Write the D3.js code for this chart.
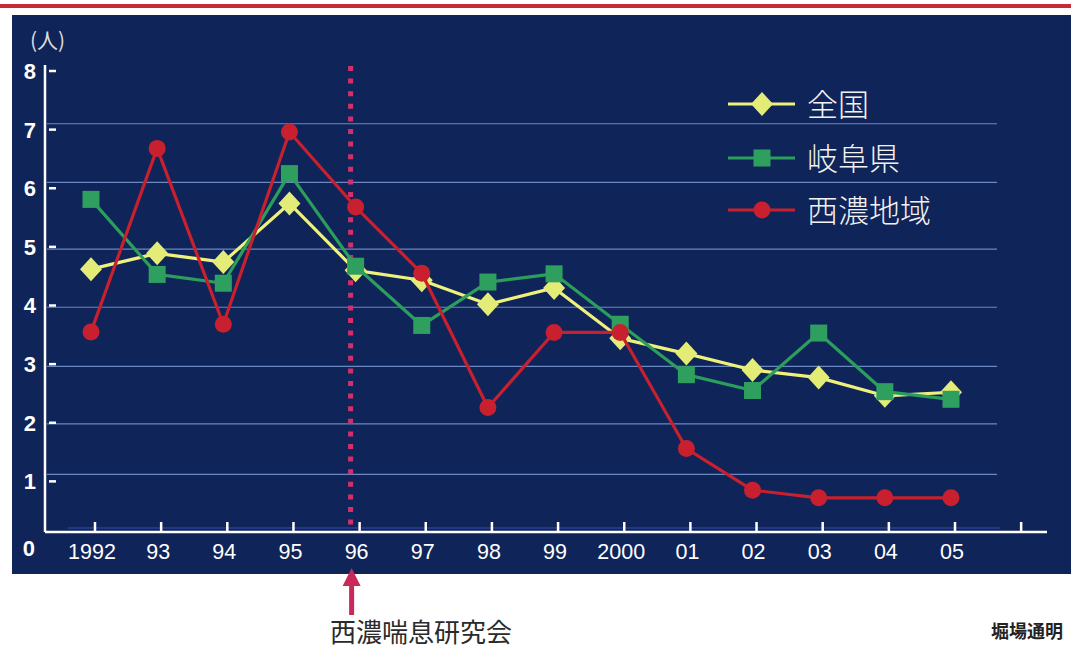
<!DOCTYPE html>
<html>
<head>
<meta charset="utf-8">
<script src="https://cdn.jsdelivr.net/npm/d3@7/dist/d3.min.js"></script>
<style>
  html, body { margin: 0; padding: 0; background: #ffffff; }
  svg { display: block; }
</style>
</head>
<body>
<svg id="chart" width="1071" height="648"></svg>
<script>
// Asthma deaths per 100,000 (人), 1992–2005
const years = ['1992', '93', '94', '95', '96', '97', '98', '99', '2000', '01', '02', '03', '04', '05'];
const national = [4.62, 4.89, 4.74, 5.74, 4.60, 4.43, 4.02, 4.30, 3.44, 3.18, 2.90, 2.77, 2.46, 2.52];
const gifu = [5.81, 4.53, 4.38, 6.25, 4.67, 3.66, 4.40, 4.54, 3.68, 2.82, 2.55, 3.53, 2.53, 2.40];
const seino = [3.55, 6.68, 3.68, 6.96, 5.68, 4.55, 2.26, 3.54, 3.54, 1.56, 0.85, 0.72, 0.72, 0.72];
const seriesNames = ['全国', '岐阜県', '西濃地域'];
const yTicks = [0, 1, 2, 3, 4, 5, 6, 7, 8];
const gridLevels = [7.1, 6.1, 4.96, 3.97, 2.96, 1.98, 1.12];
const markerYear = '96';
const markerLabel = '西濃喘息研究会';
const unitLabel = '(人)';
const authorLabel = '堀場通明';

const svg = d3.select('#chart');
const W = 1071, H = 648;

const x = d3.scalePoint().domain(years).range([91, 951]);
const y = d3.scaleLinear().domain([0, 8]).range([540, 71]);
const step = x.step();
const axisY = 532, axisX = 45;

// header rule and panel
svg.append('rect').attr('x', 0).attr('y', 4).attr('width', W).attr('height', 4).attr('fill', '#c9283a');
svg.append('rect').attr('x', 12).attr('y', 15).attr('width', W - 12).attr('height', 559).attr('fill', '#0f2458');

// horizontal grid
svg.append('g').selectAll('line').data(gridLevels).join('line')
  .attr('x1', axisX + 2).attr('x2', 997)
  .attr('y1', d => y(d)).attr('y2', d => y(d))
  .attr('stroke', '#7d9ad6').attr('stroke-width', 1.2).attr('opacity', 0.85);

// faint baseline just above the axis
svg.append('line')
  .attr('x1', 68).attr('x2', 1000).attr('y1', axisY - 4).attr('y2', axisY - 4)
  .attr('stroke', '#3048b4').attr('stroke-width', 2).attr('opacity', 0.55);

// y axis
svg.append('line').attr('x1', axisX).attr('x2', axisX).attr('y1', 65).attr('y2', axisY)
  .attr('stroke', '#ffffff').attr('stroke-width', 2.5);
const yt = svg.append('g');
yt.selectAll('line').data(yTicks.filter(d => d > 0)).join('line')
  .attr('x1', axisX + 4).attr('x2', axisX + 11)
  .attr('y1', d => y(d)).attr('y2', d => y(d))
  .attr('stroke', '#ffffff').attr('stroke-width', 2.5);
yt.selectAll('text').data(yTicks).join('text')
  .attr('x', d => d === 0 ? 35 : 36)
  .attr('y', d => d === 0 ? y(d) + 8 : y(d))
  .attr('dy', '0.36em')
  .attr('text-anchor', 'end')
  .attr('fill', '#ffffff')
  .attr('font-family', 'Liberation Sans, Arial, sans-serif')
  .attr('font-size', 22).attr('font-weight', 'bold')
  .text(d => d);

svg.append('text').attr('x', 30).attr('y', 48)
  .attr('fill', '#dcdcdc')
  .attr('font-family', 'Noto Sans CJK JP, sans-serif')
  .attr('font-size', 21)
  .text(unitLabel);

// x axis
svg.append('line').attr('x1', axisX).attr('x2', 1047).attr('y1', axisY).attr('y2', axisY)
  .attr('stroke', '#ffffff').attr('stroke-width', 2.5);
const tickXs = years.map(d => x(d) + 4).concat([x(years[years.length - 1]) + step + 4]);
svg.append('g').selectAll('line').data(tickXs).join('line')
  .attr('x1', d => d).attr('x2', d => d)
  .attr('y1', axisY - 10).attr('y2', axisY)
  .attr('stroke', '#ffffff').attr('stroke-width', 2.5);
svg.append('g').selectAll('text').data(years).join('text')
  .attr('x', d => x(d) + 1).attr('y', 559)
  .attr('text-anchor', 'middle')
  .attr('fill', '#ffffff')
  .attr('font-family', 'Liberation Sans, Arial, sans-serif')
  .attr('font-size', 21.5)
  .text(d => d);

// study-group start marker
const mx = x(markerYear) - 5;
svg.append('line').attr('x1', mx).attr('x2', mx).attr('y1', 66).attr('y2', 526)
  .attr('stroke', '#d2306a').attr('stroke-width', 5)
  .attr('stroke-dasharray', '5 7.6');

// series
const series = [
  { name: seriesNames[0], values: national, line: '#eef27c', fill: '#e4ec78', shape: 'diamond' },
  { name: seriesNames[1], values: gifu, line: '#2b9e5c', fill: '#2f9f5f', shape: 'square' },
  { name: seriesNames[2], values: seino, line: '#c8202e', fill: '#c9202f', shape: 'circle' }
];

const lineGen = d3.line().x((d, i) => x(years[i])).y(d => y(d));

function drawMarker(g, shape, fill) {
  if (shape === 'diamond') {
    g.append('path').attr('d', 'M0,-12L11,0L0,12L-11,0Z').attr('fill', fill);
  } else if (shape === 'square') {
    g.append('rect').attr('x', -8.5).attr('y', -8.5).attr('width', 17).attr('height', 17).attr('fill', fill);
  } else {
    g.append('circle').attr('r', 8.5).attr('fill', fill);
  }
}

series.forEach(s => {
  const g = svg.append('g');
  g.append('path').datum(s.values)
    .attr('d', lineGen)
    .attr('fill', 'none')
    .attr('stroke', s.line)
    .attr('stroke-width', 3.2)
    .attr('stroke-linejoin', 'round');
  g.selectAll('g.m').data(s.values).join('g')
    .attr('class', 'm')
    .attr('transform', (d, i) => `translate(${x(years[i])},${y(d)})`)
    .each(function () { drawMarker(d3.select(this), s.shape, s.fill); });
});

// legend
const legendY = [104, 158, 210];
series.forEach((s, i) => {
  const g = svg.append('g').attr('transform', `translate(0,${legendY[i]})`);
  g.append('line').attr('x1', 728).attr('x2', 795).attr('y1', 0).attr('y2', 0)
    .attr('stroke', s.line).attr('stroke-width', 3.2);
  const m = g.append('g').attr('transform', 'translate(762,0)');
  drawMarker(m, s.shape, s.fill);
  g.append('text').attr('x', 807).attr('y', 0).attr('dy', '0.38em')
    .attr('fill', '#f2f2f2')
    .attr('font-family', 'Noto Sans CJK JP, sans-serif')
    .attr('font-size', 31).attr('font-weight', 300)
    .text(s.name);
});

// arrow and caption below the panel
svg.append('line').attr('x1', mx + 1).attr('x2', mx + 1).attr('y1', 584).attr('y2', 615)
  .attr('stroke', '#c8285a').attr('stroke-width', 5);
svg.append('path')
  .attr('d', `M${mx + 1},568L${mx + 10},586L${mx - 8},586Z`)
  .attr('fill', '#c8285a');
svg.append('text').attr('x', 421).attr('y', 642)
  .attr('text-anchor', 'middle')
  .attr('fill', '#2a2a2a')
  .attr('font-family', 'Noto Sans CJK JP, sans-serif')
  .attr('font-size', 26)
  .text(markerLabel);
svg.append('text').attr('x', 1063).attr('y', 638)
  .attr('text-anchor', 'end')
  .attr('fill', '#222222')
  .attr('font-family', 'Noto Sans CJK JP, sans-serif')
  .attr('font-size', 18).attr('font-weight', 'bold')
  .text(authorLabel);
</script>
</body>
</html>
